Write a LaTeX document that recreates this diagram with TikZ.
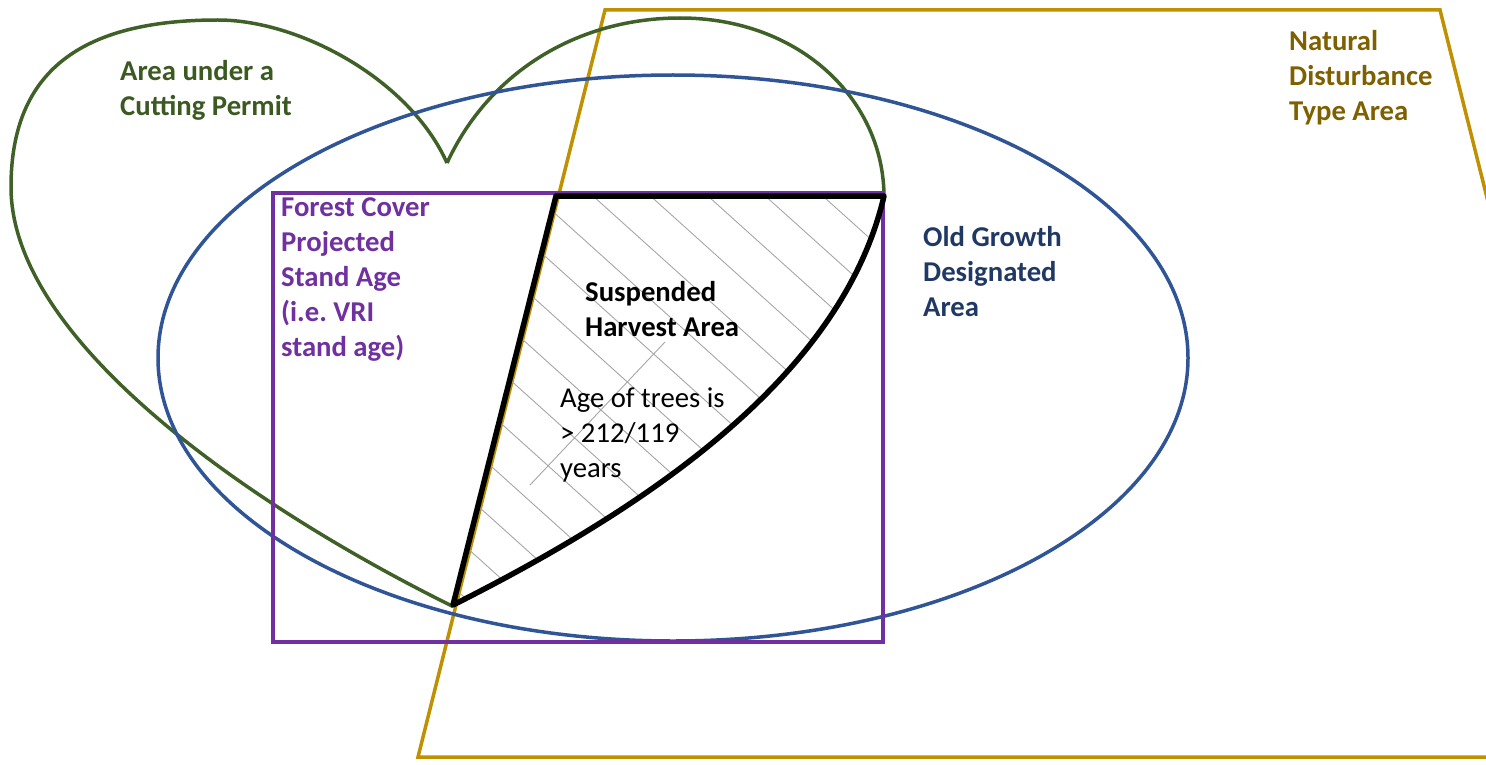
\documentclass[tikz,border=0pt]{standalone}
\usepackage{fontspec}
\setmainfont{Carlito}
\frenchspacing
\usetikzlibrary{positioning}
\definecolor{permitline}{HTML}{3F6127}
\definecolor{permittext}{HTML}{3B5A22}
\definecolor{growthline}{HTML}{2F5597}
\definecolor{growthtext}{HTML}{203864}
\definecolor{coverline}{HTML}{7030A0}
\definecolor{disturbline}{HTML}{BF9000}
\definecolor{disturbtext}{HTML}{7F6000}

\begin{document}
\begin{tikzpicture}[x=1pt,y=-1pt,
    outline/.style={line width=3.5pt},
    hatch/.style={draw=black!35,line width=0.9pt},
    lbl/.style={anchor=base west,inner sep=0pt,align=left,
                font=\bfseries\fontsize{28.7}{35}\selectfont}]
  \useasboundingbox (0,0) rectangle (1486,765);
  % natural disturbance type area, runs off the page
  \begin{scope}
    \clip (0,0) rectangle (1486,765);
    \draw[outline,disturbline] (605,10) -- (1440,10) -- (1627,757) -- (418,757) -- cycle;
  \end{scope}
  % cutting permit heart
  \draw[outline,permitline] (447,163) .. controls (410,80) and (300,20) .. (218,20)
    .. controls (80,20) and (11,72) .. (11,187)
    .. controls (11,345) and (262,512) .. (452,606)
    .. controls (658,502) and (843,372) .. (884,197)
    .. controls (884,100) and (800,18) .. (680,18)
    .. controls (580,18) and (490,70) .. (447,163);
  % old growth ellipse
  \draw[outline,growthline] (673,358) ellipse [x radius=515, y radius=283];
  % forest cover box
  \draw[outline,coverline] (273,193) rectangle (883,642);
  % suspended harvest area
  \begin{scope}
    \clip (556,196) -- (884,196) .. controls (843,372) and (658,502) .. (453,605) -- cycle;
    \foreach \k in {-4,...,10}
      \draw[hatch] (400,{22.3+51.7*\k}) -- (950,{517.3+51.7*\k});
  \end{scope}
  \draw[hatch] (530,485) -- (665,342);
  \draw[line width=5.5pt,line join=round] (556,196) -- (884,196)
    .. controls (843,372) and (658,502) .. (453,605) -- cycle;
  % labels (anchored at the baseline of the last line)
  \node[lbl,text=permittext] (permit) at (120,116) {Area under a\\Cutting Permit};
  \node[lbl,text=coverline] (standage) at (281,356) {Forest Cover\\Projected\\Stand Age\\(i.e. VRI\\stand age)};
  \node[lbl,text=disturbtext] (disturb) at (1289,121) {Natural\\Disturbance\\Type Area};
  \node[lbl,text=growthtext] (oldgrowth) at (923,316) {Old Growth\\Designated\\Area};
  \node[lbl] (suspended) at (585,336) {Suspended\\Harvest Area};
  \node[lbl,font=\fontsize{28.7}{35}\selectfont] (treeage) at (560,477) {Age of trees is\\> 212/119\\years};
\end{tikzpicture}
\end{document}
